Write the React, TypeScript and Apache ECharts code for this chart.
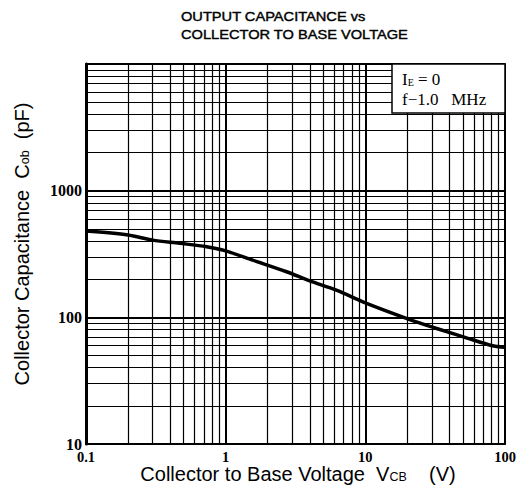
import React, { useEffect, useRef } from "react";
import * as echarts from "echarts";

const voltage = [0.1, 0.2, 0.3, 0.47, 0.73, 1.0, 1.56, 2.73, 4.0, 6.2, 10, 20.8, 32, 55, 80, 100];
const capacitance = [480, 447, 407, 384, 361, 335, 283, 229, 194, 164, 130, 96, 82, 68, 60, 58];

const xTicks = [0.1, 1, 10, 100];
const xTickLabels = ["0.1", "1", "10", "100"];
const yTicks = [10, 100, 1000, 10000];
const yTickLabels = ["10", "100", "1000", ""];

const titleLines = ["OUTPUT CAPACITANCE vs", "COLLECTOR TO BASE VOLTAGE"];

function minorValues(decades: number[]) {
  const out: number[] = [];
  for (let i = 0; i < decades.length - 1; i++) {
    for (let m = 2; m <= 9; m++) out.push(decades[i] * m);
  }
  return out;
}

function pickLabel(v: number, ticks: number[], labels: string[]) {
  for (let i = 0; i < ticks.length; i++) {
    if (Math.abs(Math.log10(v) - Math.log10(ticks[i])) < 1e-6) return labels[i];
  }
  return "";
}

export default function App() {
  const ref = useRef<HTMLDivElement>(null);
  useEffect(() => {
    if (!ref.current) return;
    const chart = echarts.init(ref.current, undefined, { renderer: "svg" });
    const xMinor = minorValues(xTicks);
    const yMinor = minorValues(yTicks);
    const gridStyle = { color: "#000", width: 1.2, type: "solid" as const };
    const sans = "Liberation Sans";
    chart.setOption({
      animation: false,
      backgroundColor: "#fff",
      grid: {
        left: 86,
        right: 18,
        top: 64,
        bottom: 51,
        show: true,
        borderColor: "#000",
        borderWidth: 1.5,
        backgroundColor: "transparent",
      },
      xAxis: {
        type: "log",
        logBase: 10,
        min: 0.1,
        max: 100,
        axisLine: { show: true, lineStyle: { color: "#000", width: 2 } },
        axisTick: { show: false },
        splitLine: { show: true, lineStyle: { color: "#000", width: 2 } },
        axisLabel: {
          color: "#000",
          fontFamily: "Liberation Serif",
          fontWeight: "bold",
          fontSize: 14.5,
          margin: 5,
          formatter: (v: number) => pickLabel(v, xTicks, xTickLabels),
        },
      },
      yAxis: {
        type: "log",
        logBase: 10,
        min: 10,
        max: 10000,
        axisLine: { show: true, lineStyle: { color: "#000", width: 3 } },
        axisTick: { show: false },
        splitLine: { show: true, lineStyle: { color: "#000", width: 2 } },
        axisLabel: {
          color: "#000",
          fontFamily: "Liberation Serif",
          fontWeight: "bold",
          fontSize: 16,
          margin: 4,
          formatter: (v: number) => pickLabel(v, yTicks, yTickLabels),
        },
      },
      series: [
        {
          type: "line",
          data: voltage.map((v, i) => [v, capacitance[i]]),
          showSymbol: false,
          smooth: 0.3,
          lineStyle: { color: "#000", width: 3.5 },
          z: 5,
          markLine: {
            silent: true,
            symbol: ["none", "none"],
            label: { show: false },
            lineStyle: gridStyle,
            data: [
              ...xMinor.map((v) => ({ xAxis: v })),
              ...yMinor.map((v) => ({ yAxis: v })),
            ],
          },
        },
      ],
      graphic: [
        {
          type: "text",
          x: 181,
          y: 8,
          scaleX: 1.17,
          style: {
            text: titleLines.join("\n"),
            font: "12.5px 'Liberation Sans', sans-serif",
            fill: "#000",
            stroke: "#000",
            lineWidth: 0.4,
            lineHeight: 18,
          },
        },
        {
          type: "rect",
          shape: { x: 392, y: 64, width: 113, height: 49 },
          style: { fill: "#fff", stroke: "#000", lineWidth: 1.5 },
          z: 10,
        },
        {
          type: "text",
          x: 402,
          y: 69,
          z: 11,
          style: {
            text: "{a|I}{s|E}{a| = 0}\n{a|f−1.0   MHz}",
            fill: "#000",
            rich: {
              a: { fontFamily: "Liberation Serif", fontSize: 17, lineHeight: 20, fill: "#000" },
              s: { fontFamily: "Liberation Serif", fontSize: 10, lineHeight: 20, fill: "#000", padding: [6, 0, 0, 0] },
            },
          },
        },
        {
          type: "text",
          x: 298,
          y: 474,
          style: {
            text: "{a|Collector to Base Voltage  V}{s|CB}{a|    (V)}",
            align: "center",
            verticalAlign: "middle",
            rich: {
              a: { fontFamily: sans, fontSize: 20, fill: "#000" },
              s: { fontFamily: sans, fontSize: 12.5, fill: "#000", padding: [5, 0, 0, 0] },
            },
          },
        },
        {
          type: "text",
          x: 22,
          y: 244,
          rotation: Math.PI / 2,
          style: {
            text: "{a|Collector Capacitance  C}{s|ob}{a|  (pF)}",
            align: "center",
            verticalAlign: "middle",
            rich: {
              a: { fontFamily: sans, fontSize: 20, fill: "#000" },
              s: { fontFamily: sans, fontSize: 12.5, fill: "#000", padding: [5, 0, 0, 0] },
            },
          },
        },
      ],
    });
    return () => chart.dispose();
  }, []);
  return (
    <div
      ref={ref}
      style={{ position: "fixed", left: 0, top: 0, width: 523, height: 495 }}
    />
  );
}
